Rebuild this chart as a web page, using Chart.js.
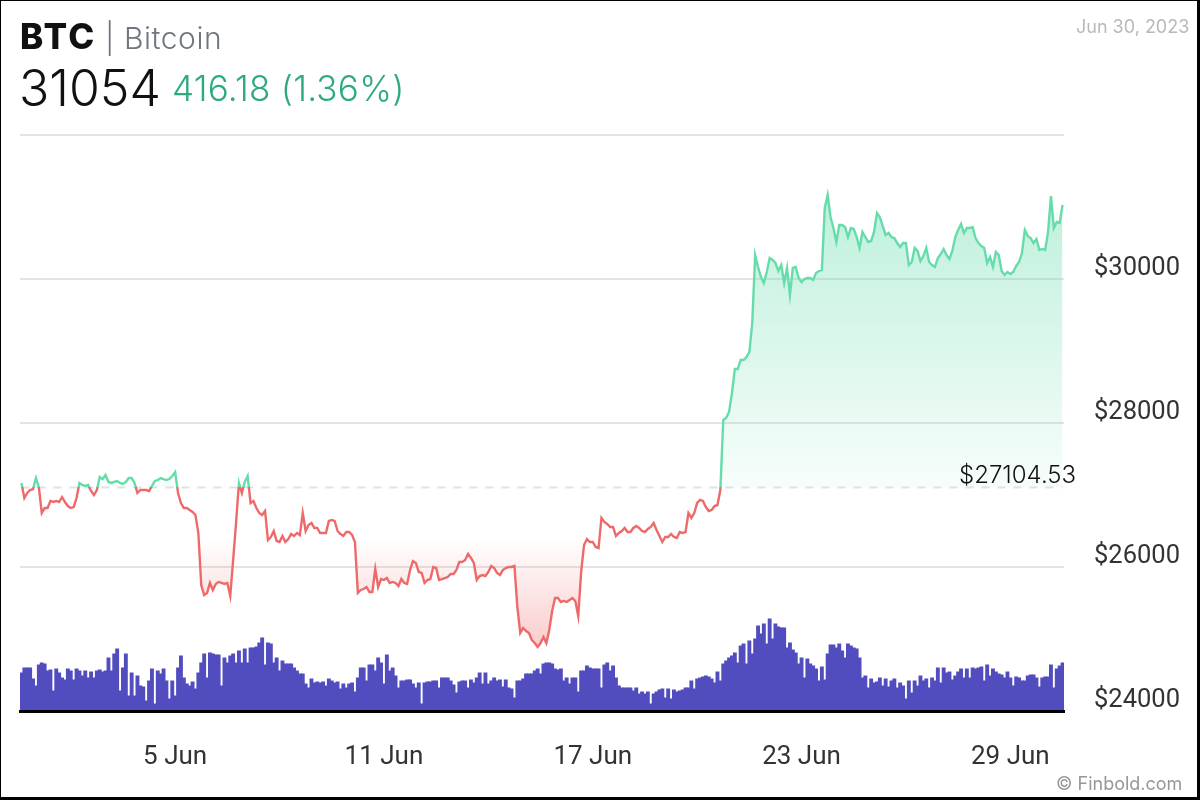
<!DOCTYPE html>
<html>
<head>
<meta charset="utf-8">
<script src="https://cdn.jsdelivr.net/npm/chart.js@4"></script>
<style>
html,body{margin:0;padding:0;background:#fff;}
#frame{position:relative;width:1200px;height:800px;overflow:hidden;background:#fff;}
#c{position:absolute;left:0;top:0;}
#edge{position:absolute;left:0;top:0;width:1200px;height:800px;box-sizing:border-box;border-style:solid;border-color:#000;border-width:1px 3px 3px 1px;pointer-events:none;}
.t{position:absolute;white-space:nowrap;font-family:Inter,sans-serif;line-height:1;}
</style>
</head>
<body>
<div id="frame">
<canvas id="c" width="1200" height="800"></canvas>
<div class="t" style="left:20px;top:19px;font-size:35px;font-weight:800;color:#111;letter-spacing:2.2px;">BTC</div>
<div class="t" style="left:105px;top:23px;font-size:30px;font-weight:300;color:#6f7680;letter-spacing:.55px;">| Bitcoin</div>
<div class="t" style="left:19px;top:63px;font-size:50px;font-weight:300;color:#111;letter-spacing:0;">31054</div>
<div class="t" style="left:172px;top:71px;font-size:35px;font-weight:300;color:#2fa982;letter-spacing:.25px;">416.18 (1.36%)</div>
<div class="t" style="left:1076px;top:18px;font-size:18px;font-weight:400;color:#b9b9b9;">Jun 30, 2023</div>
<div class="t" style="left:1056px;top:775px;font-size:18px;font-weight:400;color:#979797;">© Finbold.com</div>
<div id="edge"></div>
</div>
<script>
const basePrice = 27104.53;
const xTickLabels = ['5 Jun','11 Jun','17 Jun','23 Jun','29 Jun'];
const yTickLabels = [24000,26000,28000,30000];

const priceA = [27167,26958,27028,27069,27083,27236,27111,26750,26819,26819,26917,26903,26917,26903,26972,26903,26847,26819,26833,26958,
27167,27139,27125,27139,27056,27000,27069,27250,27222,27278,27181,27167,27181,27194,27167,27153,27181,27236,27236,27167,
27028,27069,27069,27069,27056,27125,27194,27208,27236,27222,27208,27222,27264,27319,27028,26889,26819,26819,26792,26764,
26722,26472,25750,25611,25639,25778,25681,25764,25792,25778,25764,25778,25597,26097,26611,27167,27028,27181,27264,26889,
26917,26819,26750,26722,26778,26375,26417,26500,26361,26347,26431,26347,26389,26458,26431,26472,26444,26750,26500,26583,
26611,26542,26542,26472,26472,26472,26639,26653,26639,26500,26458,26431,26486,26486,26444,26347,25639];
const priceB = [25681,25694,25722,25653,25653,25972,25722,25833,25819,25847,25778,25792,25778,25736,25833,25778,25764,25958,26083,26056,
25931,25917,25778,25819,25833,26000,25986,25819,25833,25847,25861,25903,25903,25958,26070,26070,26097,26181,26125,26056,
25819,25875,25889,25875,25931,26014,25986,25917,25889,25958,25986,26000,26000,26014,25445,25083,25153,25111,25083,24986,
24944,24889,24944,25028,24944,25125,25389,25570,25570,25514,25528,25514,25542,25570,25528,25319,25931,26306,26389,26347,
26347,26278,26264,26681,26625,26597,26556,26556,26431,26472,26500,26542,26486,26486,26542,26570,26542,26500,26486,26528,
26556,26611,26514,26431,26347,26417,26417,26458,26417,26403,26486,26472,26486,26750,26681,26750,26889,26931,26917,26833,
26778,26792,26847,26861,27069];
const priceC = [28042,28069,28153,28417,28750,28750,28875,28875,28917,28986,29389,30333,30167,30028,29944,30097,30292,30264,30222,30111,
30194,29944,30153,29778,30153,30167,30014,29958,30000,30014,30014,29986,30083,30111,30125,30986,31167,30861,30708,30514,
30750,30750,30722,30583,30708,30694,30583,30431,30653,30583,30514,30528,30653,30917,30861,30736,30611,30639,30583,30569,
30500,30444,30500,30500,30194,30236,30431,30389,30250,30319,30431,30236,30194,30167,30292,30347,30417,30333,30278,30389,
30583,30681,30764,30639,30708,30708,30722,30569,30500,30458,30431,30222,30306,30167,30375,30333,30111,30056,30097,30069,
30097,30181,30236,30361,30681,30597,30569,30500,30556,30403,30417,30403,30653,31153,30708,30792,30778,31028];
const prices = priceA.concat(priceB, priceC);

const volumeA = [38,43,43,43,32,25,46,48,47,40,41,20,42,38,33,31,42,40,31,42,
40,35,40,33,39,33,40,41,39,40,53,40,57,62,20,43,57,15,38,15,
35,25,24,10,30,42,7,40,37,42,30,12,30,15,43,55,33,27,25,29,
22,38,48,57,33,58,57,56,56,25,53,48,55,57,48,60,48,62,48,63,
63,64,68,73,46,68,67,48,53,40,50,47,47,47,43,40,37,37,27,23,
32,28,29,28,29,25,32,30,28,29,22,27,23,27,28,19,33];
const volumeB = [43,43,30,46,46,40,53,48,27,56,40,43,35,23,30,30,31,31,27,23,
28,7,28,29,29,30,30,23,33,33,33,30,26,18,29,30,30,23,31,28,
33,38,27,38,27,30,33,30,31,24,31,23,22,13,30,30,32,37,37,37,
40,42,37,47,48,48,47,42,41,42,30,33,27,33,33,19,40,40,45,43,
42,42,42,23,46,48,40,45,33,25,23,23,23,23,20,23,17,19,17,19,
7,17,19,21,22,13,22,12,21,19,20,21,23,23,30,22,32,33,34,35,
34,32,28,39,30];
const volumeC = [47,50,53,55,58,48,65,67,47,70,57,72,85,77,87,67,92,72,87,84,
83,83,63,68,61,58,47,53,33,52,47,45,42,30,44,31,57,66,66,63,
67,60,53,67,65,63,62,53,33,35,23,32,28,29,33,25,32,24,30,32,
23,28,25,12,30,18,30,25,35,30,32,23,33,30,43,28,43,38,39,31,
35,39,42,33,42,33,43,42,43,44,30,46,35,42,39,37,36,33,39,33,
25,34,33,30,30,35,36,36,33,24,33,34,34,46,23,42,45,48];
const volumes = volumeA.concat(volumeB, volumeC);

const categories = prices.map((_, i) => {
  const h = 14 + i * 2;
  const d = Math.floor(h / 24);
  const hour = h % 24;
  const day = d === 0 ? '31 May' : d + ' Jun';
  return hour === 0 ? day : day + ' ' + String(hour).padStart(2,'0') + ':00';
});
const baseLine = prices.map(() => basePrice);

const GREEN = '#66dcab', RED = '#ee6a6a';
const cache = {};
function grads(chart){
  const a = chart.chartArea, y = chart.scales.y;
  if (!a || !y) return null;
  if (cache.line) return cache;
  const ctx = chart.ctx;
  const bp = y.getPixelForValue(basePrice);
  const stop = (bp - a.top) / (a.bottom - a.top);
  const l = ctx.createLinearGradient(0, a.top, 0, a.bottom);
  l.addColorStop(0, GREEN); l.addColorStop(stop, GREEN);
  l.addColorStop(stop, RED); l.addColorStop(1, RED);
  cache.line = l;
  const up = ctx.createLinearGradient(0, y.getPixelForValue(31100), 0, bp);
  up.addColorStop(0, 'rgba(102,220,171,0.42)');
  up.addColorStop(1, 'rgba(102,220,171,0.05)');
  cache.up = up;
  const dn = ctx.createLinearGradient(0, y.getPixelForValue(26400), 0, y.getPixelForValue(24889));
  dn.addColorStop(0, 'rgba(238,106,106,0)');
  dn.addColorStop(1, 'rgba(238,106,106,0.34)');
  cache.dn = dn;
  return cache;
}

const baseLabel = {
  id:'baseLabel',
  afterDraw(chart){
    const ctx = chart.ctx, y = chart.scales.y;
    ctx.save();
    ctx.font = '300 24px Inter, sans-serif';
    ctx.fillStyle = '#111';
    ctx.textAlign = 'left';
    ctx.textBaseline = 'alphabetic';
    ctx.fillText('$' + basePrice, 959, y.getPixelForValue(basePrice) - 4);
    ctx.restore();
  }
};

new Chart(document.getElementById('c'), {
  type:'line',
  plugins:[baseLabel],
  data:{
    labels:categories,
    datasets:[
      {
        type:'line', data:prices, order:1, yAxisID:'y', pointRadius:0, borderWidth:2.4, tension:0,
        borderColor:ctx => { const g = grads(ctx.chart); return g ? g.line : GREEN; },
        fill:ctx => { const g = grads(ctx.chart);
          return g ? {target:{value:basePrice}, above:g.up, below:g.dn} : false; }
      },
      {
        type:'line', data:baseLine, order:2, yAxisID:'y', pointRadius:0, borderWidth:2,
        borderColor:'#e2e2e2', borderDash:[8,8], fill:false
      },
      {
        type:'bar', data:volumes, order:3, yAxisID:'v', backgroundColor:'#524dbf',
        barPercentage:1, categoryPercentage:1, borderWidth:0, inflateAmount:0.5
      }
    ]
  },
  options:{
    responsive:false, animation:false, devicePixelRatio:1,
    layout:{padding:{left:20,top:135,right:0,bottom:0}},
    plugins:{legend:{display:false},tooltip:{enabled:false},title:{display:false}},
    scales:{
      x:{
        type:'category', offset:true,
        grid:{display:false,drawTicks:false},
        border:{color:'#000',width:3,z:1},
        afterFit(s){ s.height = 89; },
        afterBuildTicks(s){ s.ticks = s.ticks.filter(t => xTickLabels.includes(s.getLabelForValue(t.value))); },
        ticks:{autoSkip:false,maxRotation:0,minRotation:0,padding:31,color:'#333',
          font:{family:'Roboto',size:26},
          callback(v){ return this.getLabelForValue(v); }}
      },
      y:{
        position:'right', min:24000, max:32000,
        afterFit(s){ s.width = 136; },
        grid:{color:'#e4e4e4',lineWidth:2,drawTicks:false},
        border:{display:false},
        ticks:{stepSize:2000,padding:30,labelOffset:-10,color:'#333',
          font:{family:'Roboto',size:25.5},
          callback(v){ return yTickLabels.includes(v) ? '$' + v : ''; }}
      },
      v:{display:false,min:0,max:576}
    }
  }
});
</script>
</body>
</html>
